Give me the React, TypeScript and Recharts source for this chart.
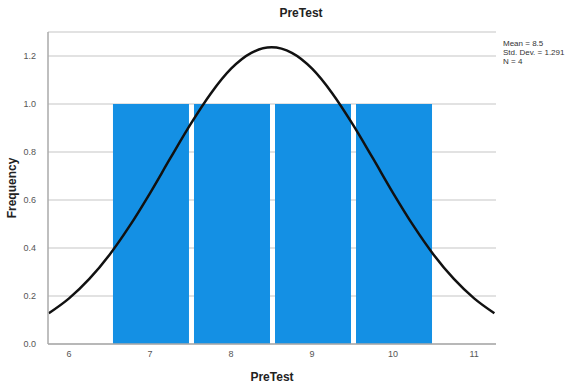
import { ComposedChart, Bar, Line, XAxis, YAxis, CartesianGrid, Label } from "recharts";

const binCenters = [7, 8, 9, 10];
const binCounts = [1, 1, 1, 1];

// normal curve (x, frequency)
const curveX = [5.75, 6, 6.25, 6.5, 6.75, 7, 7.25, 7.5, 7.75, 8, 8.25, 8.5, 8.75, 9, 9.25, 9.5, 9.75, 10, 10.25, 10.5, 10.75, 11, 11.25];
const curveY = [0.128, 0.19, 0.271, 0.372, 0.493, 0.629, 0.774, 0.916, 1.044, 1.147, 1.213, 1.236, 1.213, 1.147, 1.044, 0.916, 0.774, 0.629, 0.493, 0.372, 0.271, 0.19, 0.128];

const xTicks = [6, 7, 8, 9, 10, 11];
const yTicks = [0, 0.2, 0.4, 0.6, 0.8, 1.0, 1.2];
const stats = ["Mean = 8.5", "Std. Dev. = 1.291", "N = 4"];

const bins = binCenters.map((x, i) => ({ x, freq: binCounts[i] }));
const curve = curveX.map((x, i) => ({ x, curve: curveY[i] }));

const font = "'Liberation Sans', Arial, sans-serif";
const BAR_W = 76;

function HistBar(props: any) {
  const { x, y, width, height } = props;
  if (!height) return null;
  return <rect x={x + width / 2 - BAR_W / 2 + 1} y={y} width={BAR_W} height={height} fill="#1490E4" />;
}

export default function App() {
  return (
    <div style={{ position: "absolute", left: 0, top: 0, width: 568, height: 387, background: "#fff", fontFamily: font }}>
      <div style={{ position: "absolute", left: 0, width: 568, top: 6, textAlign: "center", fontSize: 12, fontWeight: "bold", color: "#222", paddingLeft: 34, boxSizing: "border-box" }}>
        PreTest
      </div>
      <div style={{ position: "absolute", left: 503, top: 39, fontSize: 8, lineHeight: "9px", color: "#333" }}>
        {stats.map((s) => (
          <div key={s}>{s}</div>
        ))}
      </div>
      <ComposedChart width={568} height={387} data={bins} margin={{ top: 32, right: 72, bottom: 13, left: 0 }}>
        <CartesianGrid vertical={false} stroke="#d9d9d9" strokeWidth={1.5} />
        <XAxis
          dataKey="x"
          type="number"
          domain={[5.74, 11.27]}
          ticks={xTicks}
          allowDataOverflow
          height={30}
          tickLine={false}
          tickMargin={1}
          stroke="#aaaaaa"
          strokeWidth={1.5}
          tick={{ fontSize: 9, fill: "#555", fontFamily: font }}
        >
          <Label value="PreTest" position="bottom" offset={-2} style={{ fontSize: 12, fontWeight: "bold", fill: "#222", fontFamily: font }} />
        </XAxis>
        <YAxis
          type="number"
          domain={[0, 1.3]}
          ticks={yTicks}
          width={48}
          tickLine={false}
          tickMargin={6}
          tickFormatter={(v: number) => v.toFixed(1)}
          stroke="#aaaaaa"
          strokeWidth={1.5}
          tick={{ fontSize: 9, fill: "#555", fontFamily: font }}
        >
          <Label value="Frequency" angle={-90} position="insideLeft" offset={12} style={{ fontSize: 12, fontWeight: "bold", fill: "#222", fontFamily: font, textAnchor: "middle" }} />
        </YAxis>
        <Bar dataKey="freq" shape={<HistBar />} isAnimationActive={false} />
        <Line data={curve} dataKey="curve" type="monotone" stroke="#111" strokeWidth={2.5} dot={false} isAnimationActive={false} />
      </ComposedChart>
    </div>
  );
}
